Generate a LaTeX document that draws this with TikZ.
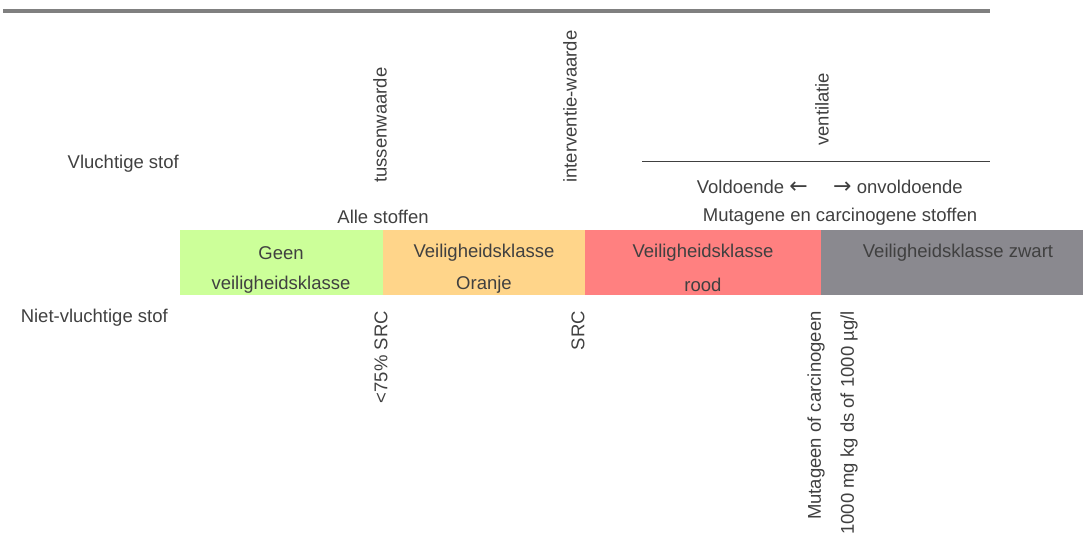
\documentclass[tikz,border=0pt]{standalone}
\usepackage{fontspec}
\setmainfont{Liberation Sans}
\newfontfamily\arrfont{DejaVu Sans}
\definecolor{txt}{HTML}{404040}
\definecolor{cgreen}{HTML}{CCFF99}
\definecolor{corange}{HTML}{FFD58A}
\definecolor{cred}{HTML}{FF8080}
\definecolor{cgray}{HTML}{8A898F}
\definecolor{bar}{HTML}{808080}
\begin{document}
\begin{tikzpicture}[x=1pt,y=-1pt,
  lbl/.style={text=txt,font=\fontsize{18.5}{21}\selectfont,inner sep=0pt},
  up/.style={lbl,rotate=90,anchor=west},
  down/.style={lbl,rotate=90,anchor=east},
  band/.style={draw=none,minimum height=65pt,inner sep=0pt,anchor=north west}]
\useasboundingbox (0,0) rectangle (1083,536);
\fill[bar] (3,9) rectangle (990,13);
% bands
\node[band,fill=cgreen,minimum width=203pt] (g) at (180,230) {};
\node[band,fill=corange,minimum width=202pt] (o) at (383,230) {};
\node[band,fill=cred,minimum width=236pt] (r) at (585,230) {};
\node[band,fill=cgray,minimum width=262pt] (z) at (821,230) {};
\node[lbl] (g1) at (281,253) {Geen};
\node[lbl] (g2) at (281,285) {veiligheidsklasse};
\node[lbl] (o1) at (484,253) {Veiligheidsklasse};
\node[lbl] (o2) at (484,285) {Oranje};
\node[lbl] (r1) at (703,253) {Veiligheidsklasse};
\node[lbl] (r2) at (703,285) {rood};
\node[lbl] (z1) at (958,253) {Veiligheidsklasse zwart};
% left labels
\node[lbl,anchor=east] (vs) at (179,164) {Vluchtige stof};
\node[lbl,anchor=east] (nvs) at (168,318) {Niet-vluchtige stof};
% top rotated
\node[up] (tw) at (380,183) {tussenwaarde};
\node[up] (iw) at (570,183) {interventie-waarde};
\node[up] (ve) at (822,146) {ventilatie};
\coordinate (l1) at (642,161);
\coordinate (l2) at (990,161);
\draw[txt,line width=1pt] (l1) -- (l2);
\node[lbl,anchor=base east] (vo) at (808,193) {Voldoende {\arrfont\fontsize{22}{24}\selectfont ←}};
\node[lbl,anchor=base west] (on) at (833,193) {{\arrfont\fontsize{22}{24}\selectfont →} onvoldoende};
\node[lbl] (as) at (383,217) {Alle stoffen};
\node[lbl] (mc) at (840,217) {Mutagene en carcinogene stoffen};
% bottom rotated
\node[down] (s75) at (381,311) {<75\% SRC};
\node[down] (src) at (578,311) {SRC};
\node[down] (mu) at (816,311) {Mutageen of carcinogeen};
\node[down] (mg) at (849,311) {1000 mg kg ds of 1000 µg/l};
\end{tikzpicture}
\end{document}
